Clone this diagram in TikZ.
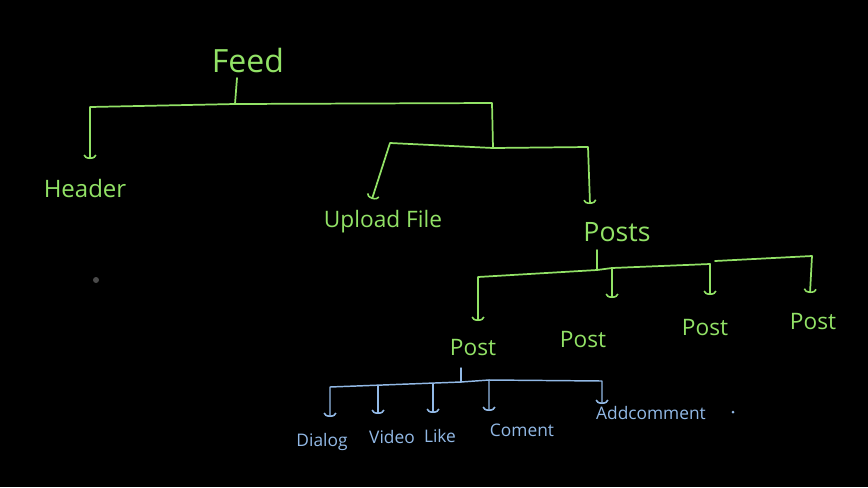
\documentclass[tikz,border=0pt]{standalone}
\usepackage{fontspec}
\setmainfont{Open Sans}
\usetikzlibrary{arrows.meta,calc}
\definecolor{hg}{HTML}{92E266}
\definecolor{hb}{HTML}{92B9E6}
\definecolor{dotgray}{HTML}{4A4A4A}
\tikzset{
  gline/.style={draw=hg, line width=1.3pt, line join=round, line cap=round},
  bline/.style={draw=hb, line width=1.1pt, line join=round, line cap=round},
  hooktip/.style={-{Arc Barb[width=10pt,length=3pt,line width=1.2pt]}},
  gtext/.style={text=hg, inner sep=0pt},
  btext/.style={text=hb, inner sep=0pt, font=\fontsize{13}{15}\selectfont},
}
\begin{document}
\begin{tikzpicture}[x=0.75pt,y=-0.75pt]
\fill[black] (0,0) rectangle (868,487);
\useasboundingbox (0,0) rectangle (868,487);
% nodes
\node[gtext, font=\fontsize{24}{28}\selectfont] (feed) at (248,60) {Feed};
\node[gtext, font=\fontsize{18}{20}\selectfont] (header) at (85,188) {Header};
\node[gtext, font=\fontsize{17}{20}\selectfont] (upload) at (383,222) {Upload File};
\node[gtext, font=\fontsize{20}{22}\selectfont] (posts) at (617,232) {Posts};
\node[gtext, font=\fontsize{17}{20}\selectfont] (post1) at (473,348) {Post};
\node[gtext, font=\fontsize{17}{20}\selectfont] (post2) at (583,340) {Post};
\node[gtext, font=\fontsize{17}{20}\selectfont] (post3) at (705,328) {Post};
\node[gtext, font=\fontsize{17}{20}\selectfont] (post4) at (813,322) {Post};
\node[btext] (dialog) at (322,442) {Dialog};
\node[btext] (video) at (392,437) {Video};
\node[btext] (like) at (440,436) {Like};
\node[btext] (coment) at (522,430) {Coment};
\node[btext] (addc) at (651,413) {Addcomment};
% free points
\coordinate (fb) at (235,104);
\coordinate (rb) at (493,148);
\coordinate (pb) at (597,270);
\coordinate (qb) at (461,382);
% Feed connectors
\draw[gline] ($(feed)+(-11,18)$) -- (fb);
\draw[gline,hooktip] (fb) -- (90,107) -- ($(header)+(5,-29)$);
\draw[gline] (fb) -- (492,103) -- (rb);
\draw[gline,hooktip] (rb) -- (390,143) -- ($(upload)+(-11,-23)$);
\draw[gline,hooktip] (rb) -- (588,147) -- ($(posts)+(-27,-28)$);
% Posts connectors
\draw[gline] ($(posts)+(-20,18)$) -- (pb);
\draw[gline,hooktip] (pb) -- (478,277) -- ($(post1)+(5,-27)$);
\draw[gline,hooktip] (pb) -- (612,268) -- ($(post2)+(29,-42)$);
\draw[gline,hooktip] (612,268) -- (710,264) -- ($(post3)+(5,-33)$);
\draw[gline,hooktip] (715,261) -- (812,256) -- ($(post4)+(-3,-29)$);
% Post connectors (blue)
\draw[bline] ($(post1)+(-12,20)$) -- (qb);
\draw[bline,hooktip] (qb) -- (330,387) -- ($(dialog)+(8,-25)$);
\draw[bline,hooktip] (378,386) -- ($(video)+(-14,-23)$);
\draw[bline,hooktip] (433,384) -- ($(like)+(-7,-23)$);
\draw[bline,hooktip] (qb) -- (489,380) -- ($(coment)+(-33,-19)$);
\draw[bline,hooktip] (489,380) -- (602,381) -- ($(addc)+(-49,-9)$);
% dots
\fill[hb] (733,412) circle (1.5);
\fill[dotgray] (96,280) circle (3);
\end{tikzpicture}
\end{document}
